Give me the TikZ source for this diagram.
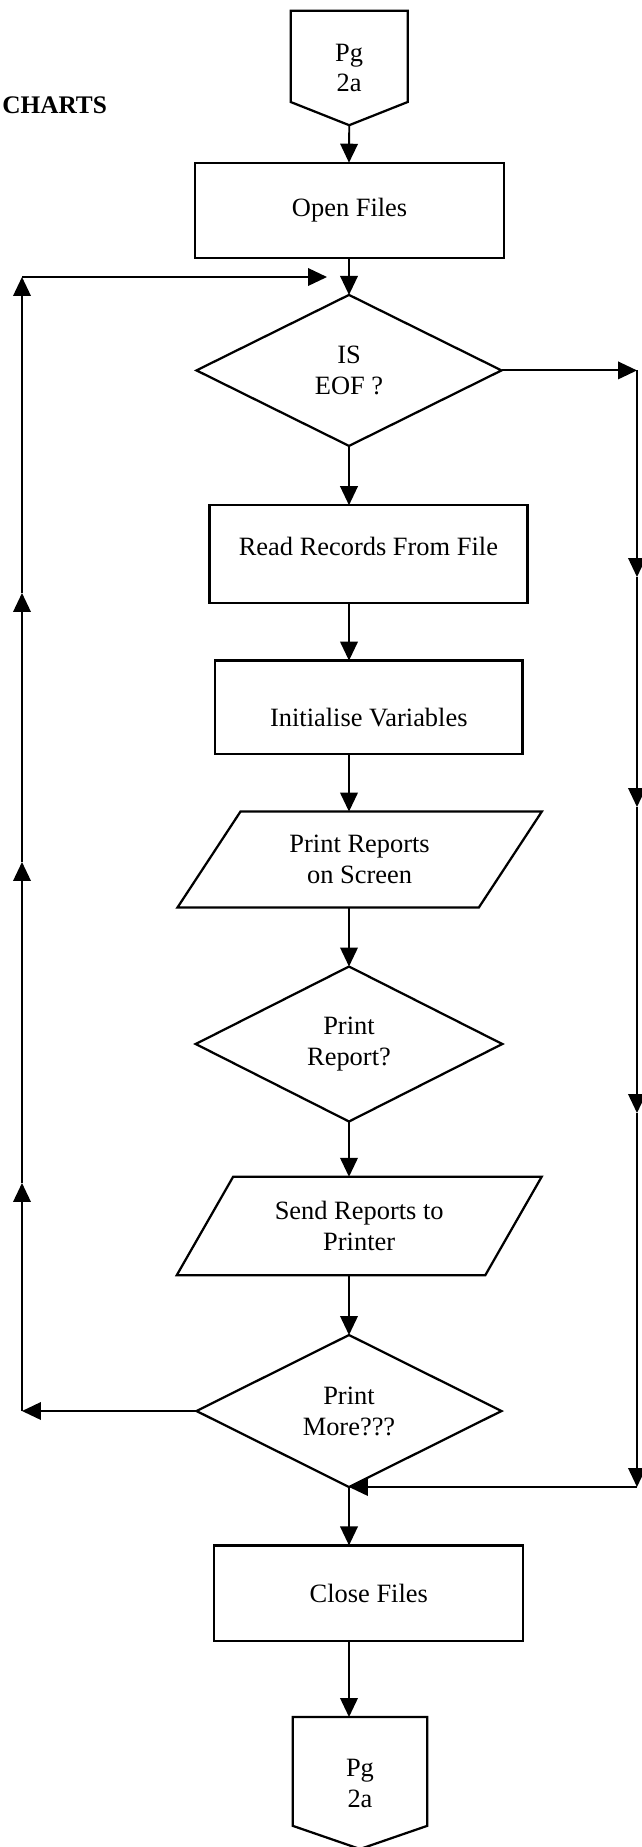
\documentclass[tikz,border=0pt]{standalone}
\usepackage{fontspec}
\setmainfont{Liberation Serif}
\usetikzlibrary{shapes.geometric,arrows.meta}

\begin{document}
\begin{tikzpicture}[
    line width=1.6pt,
    font=\fontsize{18.8}{22}\selectfont,
    procbox/.style={draw, rectangle, inner sep=0pt, outer sep=0pt},
    decision/.style={draw, diamond, align=center, inner sep=0pt, outer sep=0pt},
    iobox/.style={draw, trapezium, trapezium left angle=52.7, trapezium right angle=127.3,
        trapezium stretches=true, align=center, inner sep=0pt, outer sep=0pt},
    pagelink/.style={rectangle, align=center, inner sep=0pt, outer sep=0pt},
    flow/.style={line width=1.3pt, -{Triangle[length=13.5pt,width=12.5pt]}}
  ]
  \useasboundingbox (0,0) rectangle (16.05,-46.175);

  % Heading at the left edge
  \node[anchor=base west, inner sep=0pt, font=\fontsize{18}{22}\selectfont\bfseries]
      (title) at (0.03,-2.825) {CHARTS};

  % Main column
  \coordinate (spine) at (8.725,0);

  \node[pagelink, minimum width=2.925cm, minimum height=2.86cm] (start) at (8.73,-1.70) {Pg\\2a};
  \draw (start.north west) -- (start.north east) -- ([yshift=0.58cm]start.south east)
      -- (start.south) -- ([yshift=0.58cm]start.south west) -- cycle;

  \node[procbox, minimum width=7.725cm, minimum height=2.375cm] (open) at (8.74,-5.255) {Open Files};
  \node[decision, minimum width=7.625cm, minimum height=3.775cm] (eof) at (8.725,-9.26) {IS\\EOF ?};
  \node[procbox, minimum width=7.95cm, minimum height=2.44cm,
      label={[yshift=0.18cm]center:Read Records From File}] (read) at (9.21,-13.85) {};
  \node[procbox, minimum width=7.69cm, minimum height=2.33cm,
      label={[yshift=-0.27cm]center:Initialise Variables}] (init) at (9.22,-17.68) {};
  \node[iobox, minimum width=9.125cm, minimum height=2.4cm] (screen) at (8.99,-21.49) {Print Reports\\on Screen};
  \node[decision, minimum width=7.665cm, minimum height=3.875cm] (ask) at (8.725,-26.1) {Print\\Report?};
  \node[iobox, minimum width=9.125cm, minimum height=2.46cm] (printer) at (8.98,-30.65) {Send Reports to\\Printer};
  \node[decision, minimum width=7.625cm, minimum height=3.8cm] (more) at (8.725,-35.275) {Print\\More???};
  \node[procbox, minimum width=7.725cm, minimum height=2.39cm] (close) at (9.22,-39.83) {Close Files};

  \node[pagelink, minimum width=3.365cm, minimum height=3.3cm] (stop) at (9.0,-44.575) {Pg\\2a};
  \draw (stop.north west) -- (stop.north east) -- ([yshift=0.58cm]stop.south east)
      -- (stop.south) -- ([yshift=0.58cm]stop.south west) -- cycle;

  % Arrows down the column
  \draw[flow] (start.south) -- (open.north -| spine);
  \draw[flow] (open.south -| spine) -- (eof.north);
  \draw[flow] (eof.south) -- (read.north -| spine);
  \draw[flow] (read.south -| spine) -- (init.north -| spine);
  \draw[flow] (init.south -| spine) -- (screen.north -| spine);
  \draw[flow] (screen.south -| spine) -- (ask.north);
  \draw[flow] (ask.south) -- (printer.north -| spine);
  \draw[flow] (printer.south -| spine) -- (more.north);
  \draw[flow] (more.south) -- (close.north -| spine);
  \draw[flow] (close.south -| spine) -- (stop.north -| spine);

  % Loop back on the left
  \coordinate (lx) at (0.55,0);
  \coordinate (back1) at (0.55,-29.575);
  \coordinate (back2) at (0.55,-21.55);
  \coordinate (back3) at (0.55,-14.825);
  \coordinate (back top) at (0.55,-6.925);
  \coordinate (back in) at (8.175,-6.925);
  \draw[flow] (more.west) -- (more.west -| lx);
  \draw[flow] (more.west -| lx) -- (back1);
  \draw[flow] (back1) -- (back2);
  \draw[flow] (back2) -- (back3);
  \draw[flow] (back3) -- (back top);
  \draw[flow] (back top) -- (back in);

  % EOF branch on the right
  \coordinate (rx) at (15.925,0);
  \coordinate (skip1) at (15.925,-14.425);
  \coordinate (skip2) at (15.925,-20.175);
  \coordinate (skip3) at (15.925,-27.825);
  \draw[flow] (eof.east) -- (eof.east -| rx);
  \draw[flow] (eof.east -| rx) -- (skip1);
  \draw[flow] (skip1) -- (skip2);
  \draw[flow] (skip2) -- (skip3);
  \draw[flow] (skip3) -- (more.south -| rx);
  \draw[flow] (more.south -| rx) -- (more.south);
\end{tikzpicture}
\end{document}
